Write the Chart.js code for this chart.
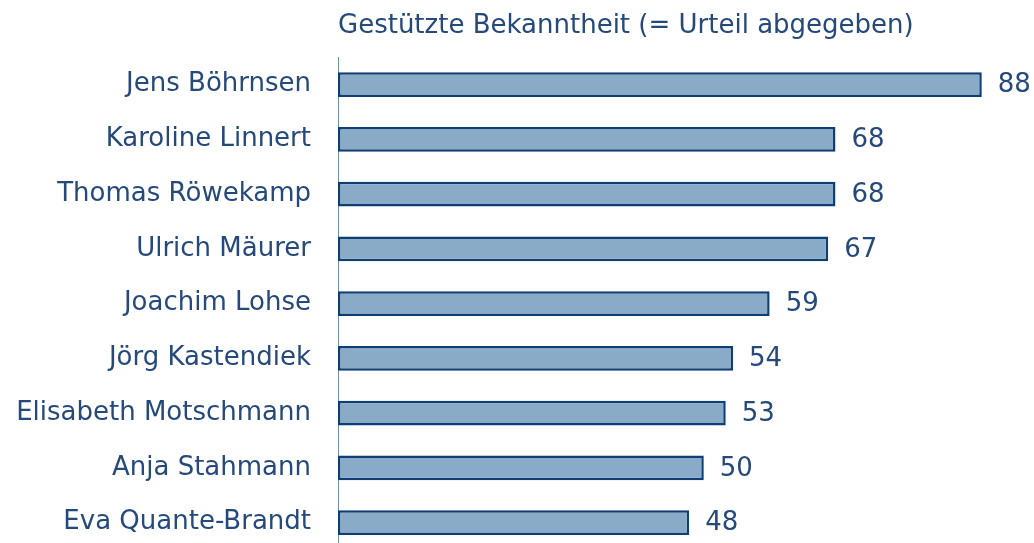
<!DOCTYPE html>
<html>
<head>
<meta charset="utf-8">
<script src="https://cdn.jsdelivr.net/npm/chart.js@4"></script>
<style>
html,body{margin:0;padding:0;background:#fff;overflow:hidden;}
#wrap{width:1034px;height:550px;position:relative;}
</style>
</head>
<body>
<div id="wrap"><canvas id="c" width="1034" height="550" style="width:1034px;height:550px;"></canvas></div>
<script>
const chartTitle = 'Gestützte Bekanntheit (= Urteil abgegeben)';
const categories = ['Jens Böhrnsen','Karoline Linnert','Thomas Röwekamp','Ulrich Mäurer','Joachim Lohse','Jörg Kastendiek','Elisabeth Motschmann','Anja Stahmann','Eva Quante-Brandt'];
const values = [88,68,68,67,59,54,53,50,48];

const textColor = '#25497b';
const FONT = 'DejaVu Sans, Verdana, sans-serif';

const valueLabels = {
  id: 'valueLabels',
  afterDatasetsDraw(chart) {
    const ctx = chart.ctx;
    const meta = chart.getDatasetMeta(0);
    ctx.save();
    ctx.font = '26px ' + FONT;
    ctx.fillStyle = textColor;
    ctx.textAlign = 'left';
    ctx.textBaseline = 'middle';
    meta.data.forEach((bar, i) => {
      ctx.fillText(String(values[i]), bar.x + 16, bar.y + 1);
    });
    ctx.restore();
  }
};

new Chart(document.getElementById('c'), {
  type: 'bar',
  data: {
    labels: categories,
    datasets: [{
      data: values,
      backgroundColor: '#8aabc8',
      borderColor: '#0e3e76',
      borderWidth: 2.5,
      borderSkipped: false,
      barPercentage: 0.45,
      categoryPercentage: 1
    }]
  },
  options: {
    indexAxis: 'y',
    responsive: false,
    maintainAspectRatio: false,
    animation: false,
    layout: { padding: { top: 0, left: 0, right: 1, bottom: 0 } },
    plugins: { legend: { display: false }, tooltip: { enabled: false } },
    scales: {
      x: {
        position: 'top',
        min: 0,
        max: 95,
        grid: { display: false, drawTicks: false },
        border: { display: false },
        ticks: { display: false },
        title: {
          display: true,
          text: chartTitle,
          align: 'start',
          color: textColor,
          font: { family: FONT, size: 26 },
          padding: { top: 11, bottom: 15 }
        }
      },
      y: {
        grid: { display: false, drawTicks: false },
        border: { display: true, color: '#6f8fb6', width: 1 },
        ticks: {
          color: textColor,
          font: { family: FONT, size: 26 },
          padding: 27
        },
        afterFit(scale) {
          scale.width = 338;
          scale.paddingTop = 0;
          scale.paddingBottom = 0;
        }
      }
    }
  },
  plugins: [valueLabels]
});
</script>
</body>
</html>
